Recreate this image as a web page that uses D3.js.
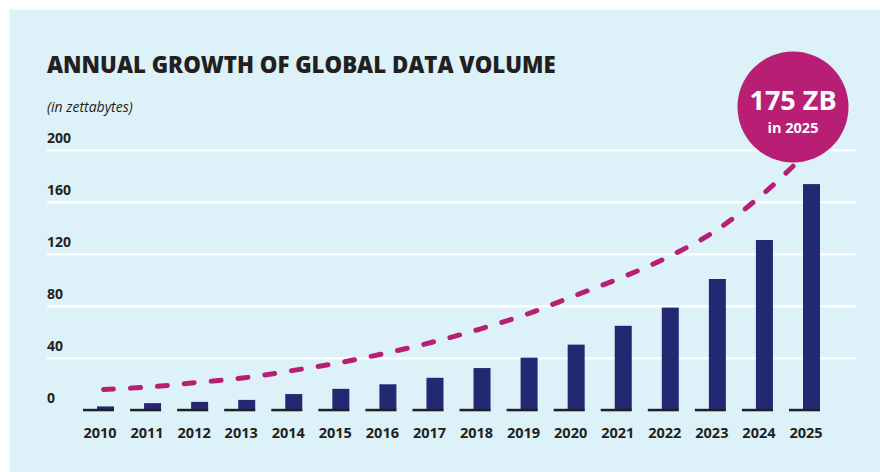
<!DOCTYPE html>
<html>
<head>
<meta charset="utf-8">
<script src="https://cdn.jsdelivr.net/npm/d3@7"></script>
<style>
  body { margin: 0; background: #fff; }
  svg { display: block; }
  text { font-family: "Open Sans", "DejaVu Sans", sans-serif; fill: #231f20; }
</style>
</head>
<body>
<svg id="chart" width="880" height="472"></svg>
<script>
// data (zettabytes)
const years = ['2010', '2011', '2012', '2013', '2014', '2015', '2016', '2017',
  '2018', '2019', '2020', '2021', '2022', '2023', '2024', '2025'];
const volume = [3, 5.5, 6.5, 8, 12.5, 16.5, 20, 25, 32.5, 40.5, 50.5, 65, 79, 101, 131, 174];
// dashed trend curve, value at each year
const trend = [16, 18, 21.5, 25, 30.5, 36.5, 44, 52.5, 62.5, 74, 88, 102, 118, 138, 166, 200];
const yTicks = [0, 40, 80, 120, 160, 200];

const svg = d3.select('#chart');

svg.append('rect')
  .attr('x', 9.5).attr('y', 9.5)
  .attr('width', 880).attr('height', 472)
  .attr('fill', '#ddf1f8');

const x = d3.scalePoint().domain(years).range([98.5, 804.5]);
const y = d3.scaleLinear().domain([0, 200]).range([410.3, 150.3]);

// gridlines (no line at zero)
svg.append('g')
  .selectAll('line')
  .data(yTicks.filter(d => d > 0))
  .join('line')
  .attr('x1', 47).attr('x2', 856)
  .attr('y1', d => y(d)).attr('y2', d => y(d))
  .attr('stroke', '#fff')
  .attr('stroke-width', 2.2);

// tick labels
svg.append('g')
  .selectAll('text')
  .data(yTicks)
  .join('text')
  .attr('x', 47)
  .attr('y', d => y(d) - 7)
  .attr('font-size', 14)
  .attr('font-weight', 700)
  .text(d => d);

// bars
svg.append('g')
  .selectAll('rect')
  .data(years)
  .join('rect')
  .attr('x', d => x(d) - 1.5)
  .attr('width', 17)
  .attr('y', (d, i) => y(volume[i]))
  .attr('height', (d, i) => y(0) - y(volume[i]))
  .attr('fill', '#222872');

// little base under each year
svg.append('g')
  .selectAll('rect')
  .data(years)
  .join('rect')
  .attr('x', d => x(d) - 15.5)
  .attr('width', 31)
  .attr('y', y(0) - 1.5)
  .attr('height', 2.5)
  .attr('fill', '#231f20');

// year labels
svg.append('g')
  .selectAll('text')
  .data(years)
  .join('text')
  .attr('x', d => x(d) + 1.5)
  .attr('y', 438)
  .attr('text-anchor', 'middle')
  .attr('font-size', 14.5)
  .attr('font-weight', 700)
  .text(d => d);

// trend curve
const line = d3.line()
  .x(d => x(d.year))
  .y(d => y(d.v))
  .curve(d3.curveCatmullRom);
svg.append('path')
  .datum(years.map((yr, i) => ({ year: yr, v: trend[i] })))
  .attr('d', line)
  .attr('transform', 'translate(5,0)')
  .attr('fill', 'none')
  .attr('stroke', '#b81f74')
  .attr('stroke-width', 5)
  .attr('stroke-linecap', 'round')
  .attr('stroke-dasharray', '10 17');

// callout bubble
const bubble = svg.append('g').attr('transform', 'translate(793,107)');
bubble.append('circle').attr('r', 55.5).attr('fill', '#b81f74');
bubble.append('text')
  .attr('y', 3)
  .attr('text-anchor', 'middle')
  .attr('font-size', 27)
  .attr('font-weight', 700)
  .style('fill', '#fff')
  .text('175 ZB');
bubble.append('text')
  .attr('y', 26)
  .attr('text-anchor', 'middle')
  .attr('font-size', 14.5)
  .attr('font-weight', 700)
  .style('fill', '#fff')
  .text('in 2025');

// titles
svg.append('text')
  .attr('x', 47).attr('y', 73)
  .attr('font-size', 22.2)
  .attr('font-weight', 800)
  .text('ANNUAL GROWTH OF GLOBAL DATA VOLUME');
svg.append('text')
  .attr('x', 47).attr('y', 112)
  .attr('font-size', 14)
  .attr('font-style', 'italic')
  .text('(in zettabytes)');
</script>
</body>
</html>
